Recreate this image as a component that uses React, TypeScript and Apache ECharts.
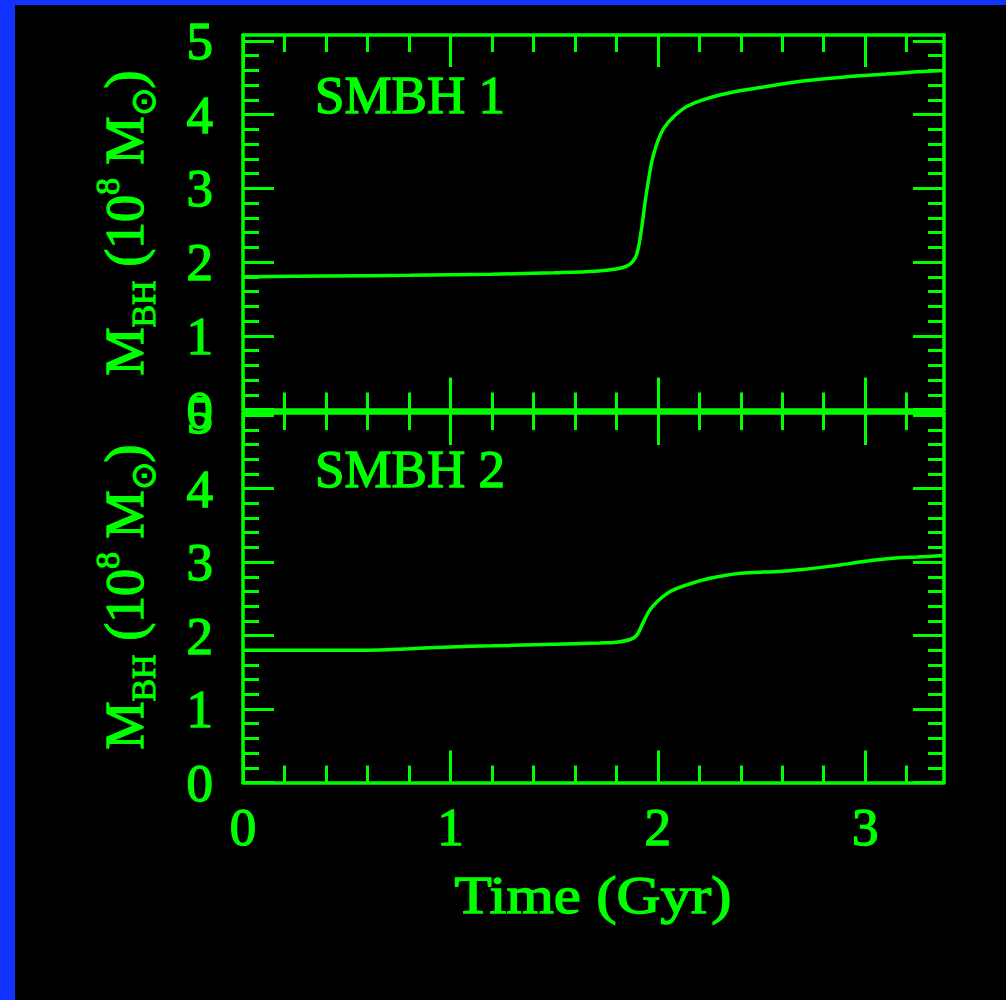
import React, { useEffect, useRef } from "react";
import * as echarts from "echarts";

// ---- data ----
const time1 = [0, 0.4, 0.8, 1.2, 1.5, 1.7, 1.8, 1.85, 1.88, 1.9, 1.92, 1.94, 1.955, 1.97, 1.985, 2.0, 2.03, 2.08, 2.14, 2.24, 2.37, 2.5, 2.7, 2.9, 3.1, 3.25, 3.38];
const mass1 = [1.8, 1.81, 1.82, 1.835, 1.855, 1.875, 1.905, 1.945, 2.01, 2.12, 2.42, 2.84, 3.11, 3.35, 3.51, 3.64, 3.82, 3.98, 4.11, 4.22, 4.31, 4.37, 4.455, 4.51, 4.55, 4.58, 4.6];

const time2 = [0, 0.3, 0.6, 0.8, 1.0, 1.2, 1.4, 1.6, 1.72, 1.8, 1.87, 1.9, 1.93, 1.96, 2.0, 2.06, 2.14, 2.25, 2.4, 2.56, 2.7, 2.85, 2.95, 3.05, 3.16, 3.25, 3.38];
const mass2 = [1.8, 1.8, 1.8, 1.82, 1.845, 1.86, 1.875, 1.89, 1.9, 1.91, 1.95, 2.01, 2.18, 2.34, 2.47, 2.6, 2.69, 2.78, 2.85, 2.87, 2.9, 2.95, 2.99, 3.03, 3.06, 3.07, 3.09];

const xMajorTicks = [0, 1, 2, 3];
const xMinorTicks = [0.2, 0.4, 0.6, 0.8, 1.2, 1.4, 1.6, 1.8, 2.2, 2.4, 2.6, 2.8, 3.2];
const yMajorTicks = [0, 1, 2, 3, 4, 5];
const yMinorTicks = [0.2, 0.4, 0.6, 0.8, 1.2, 1.4, 1.6, 1.8, 2.2, 2.4, 2.6, 2.8, 3.2, 3.4, 3.6, 3.8, 4.2, 4.4, 4.6, 4.8];

const panelLabels = ["SMBH 1", "SMBH 2"];
const xTitle = "Time (Gyr)";

const X_MAX = 3.38;
const Y_MAX_TOP = 5.08;
const Y_MAX_BOTTOM = 5.03;

const GREEN = "#00ff00";
const BLUE = "#1133ff";
const FONT = "'Liberation Serif', 'Times New Roman', serif";
const BORDER = 1.4;

function xAxesFor(grid: number, showLabels: boolean) {
  const base = {
    type: "value",
    gridIndex: grid,
    min: 0,
    max: X_MAX,
    splitLine: { show: false },
  };
  const tickStyle = { color: GREEN, width: 3 };
  const mk = (position: string, major: boolean, labels: boolean) => ({
    ...base,
    position,
    axisLine: { show: major, onZero: false, lineStyle: { color: GREEN, width: 3.5 } },
    axisTick: {
      show: true,
      inside: true,
      length: major ? 32 : 17,
      customValues: major ? xMajorTicks : xMinorTicks,
      lineStyle: tickStyle,
    },
    axisLabel: labels
      ? {
          show: true,
          customValues: xMajorTicks,
          margin: 18,
          color: GREEN,
          fontSize: 53,
          fontFamily: FONT,
          textBorderColor: GREEN,
          textBorderWidth: BORDER,
        }
      : { show: false },
  });
  return [mk("bottom", true, showLabels), mk("bottom", false, false), mk("top", true, false), mk("top", false, false)];
}

function yAxesFor(grid: number, yMax: number) {
  const base = {
    type: "value",
    gridIndex: grid,
    min: 0,
    max: yMax,
    splitLine: { show: false },
  };
  const tickStyle = { color: GREEN, width: 3 };
  const mk = (position: string, major: boolean, labels: boolean) => ({
    ...base,
    position,
    axisLine: { show: major, onZero: false, lineStyle: { color: GREEN, width: 3.5 } },
    axisTick: {
      show: true,
      inside: true,
      length: major ? 31 : 16,
      customValues: major ? yMajorTicks : yMinorTicks,
      lineStyle: tickStyle,
    },
    axisLabel: labels
      ? {
          show: true,
          customValues: yMajorTicks,
          margin: 30,
          color: GREEN,
          fontSize: 53,
          fontFamily: FONT,
          textBorderColor: GREEN,
          textBorderWidth: BORDER,
        }
      : { show: false },
  });
  return [mk("left", true, true), mk("left", false, false), mk("right", true, false), mk("right", false, false)];
}

const Y_TITLE = "{m|M}{s|BH}{m| }{m|(10}{p|8}{m| }{m|M}{s|⊙}{m|)}";
const tokenBase = { fontFamily: FONT, fill: GREEN, stroke: GREEN, lineWidth: BORDER };
const yTitleRich = {
  m: { ...tokenBase, fontSize: 54, lineHeight: 70 },
  s: { ...tokenBase, fontSize: 34, lineHeight: 34, verticalAlign: "bottom", lineWidth: 1 },
  p: { ...tokenBase, fontSize: 34, lineHeight: 56, verticalAlign: "top", lineWidth: 1 },
};

const textStyle = { fill: GREEN, stroke: GREEN, lineWidth: BORDER, fontSize: 53, fontFamily: FONT };

export default function App() {
  const ref = useRef<HTMLDivElement>(null);

  useEffect(() => {
    if (!ref.current) return;
    const chart = echarts.init(ref.current, null, { renderer: "svg" });
    const option: any = {
      animation: false,
      backgroundColor: "#000000",
      grid: [
        { left: 243, top: 35, width: 701, height: 374.5, outerBoundsMode: "none" },
        { left: 243, top: 413, width: 701, height: 369.5, outerBoundsMode: "none" },
      ],
      xAxis: [...xAxesFor(0, false), ...xAxesFor(1, true)],
      yAxis: [...yAxesFor(0, Y_MAX_TOP), ...yAxesFor(1, Y_MAX_BOTTOM)],
      series: [
        {
          name: panelLabels[0],
          type: "line",
          xAxisIndex: 0,
          yAxisIndex: 0,
          data: time1.map((t, i) => [t, mass1[i]]),
          showSymbol: false,
          smooth: 0.35,
          lineStyle: { color: GREEN, width: 3.5 },
        },
        {
          name: panelLabels[1],
          type: "line",
          xAxisIndex: 4,
          yAxisIndex: 4,
          data: time2.map((t, i) => [t, mass2[i]]),
          showSymbol: false,
          smooth: 0.35,
          lineStyle: { color: GREEN, width: 3.5 },
        },
      ],
      graphic: [
        { type: "rect", shape: { x: 0, y: 0, width: 15, height: 1000 }, style: { fill: BLUE } },
        { type: "rect", shape: { x: 0, y: 0, width: 1006, height: 5 }, style: { fill: BLUE } },
        {
          type: "text",
          x: 315,
          y: 95,
          style: { ...textStyle, text: panelLabels[0], align: "left", verticalAlign: "middle" },
        },
        {
          type: "text",
          x: 315,
          y: 469,
          style: { ...textStyle, text: panelLabels[1], align: "left", verticalAlign: "middle" },
        },
        {
          type: "text",
          x: 593,
          y: 895,
          scaleX: 1.15,
          style: { ...textStyle, text: xTitle, align: "center", verticalAlign: "middle" },
        },
        {
          type: "text",
          x: 125,
          y: 223,
          rotation: Math.PI / 2,
          style: { ...textStyle, fontSize: 54, text: Y_TITLE, align: "center", verticalAlign: "middle", rich: yTitleRich },
        },
        {
          type: "text",
          x: 125,
          y: 597,
          rotation: Math.PI / 2,
          style: { ...textStyle, fontSize: 54, text: Y_TITLE, align: "center", verticalAlign: "middle", rich: yTitleRich },
        },
      ],
    };
    chart.setOption(option);
    return () => chart.dispose();
  }, []);

  return (
    <div
      ref={ref}
      style={{ position: "absolute", left: 0, top: 0, width: 1006, height: 1000 }}
    />
  );
}
